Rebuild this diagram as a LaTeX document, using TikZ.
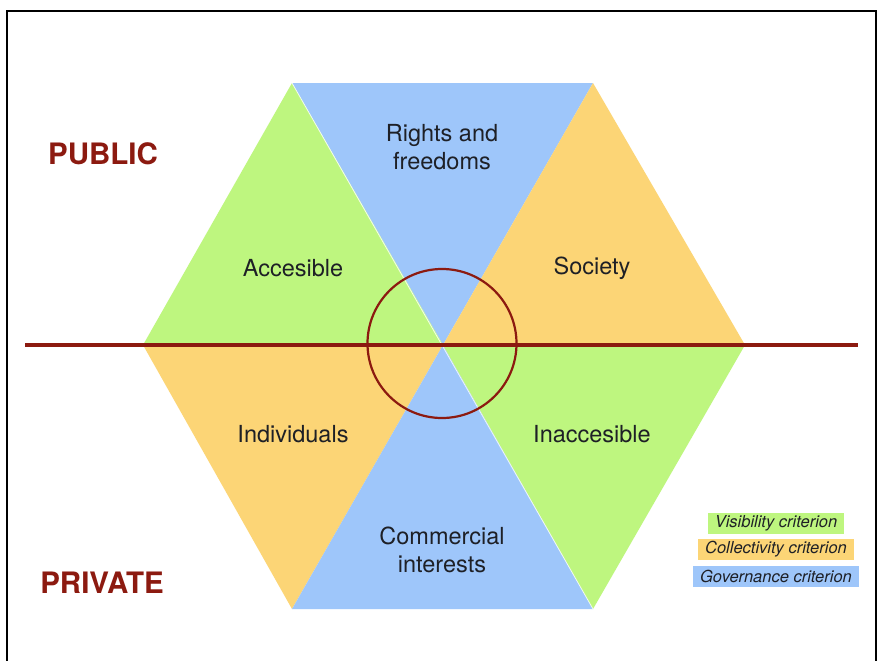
\documentclass[tikz,border=0pt]{standalone}
\usepackage{fontspec}
\setmainfont{TeX Gyre Heros}
\definecolor{vgreen}{RGB}{190,246,127}
\definecolor{gblue}{RGB}{158,198,250}
\definecolor{corange}{RGB}{252,213,118}
\definecolor{darkred}{RGB}{140,26,16}
\definecolor{inktext}{RGB}{30,32,38}
\begin{document}
\begin{tikzpicture}[x=1pt,y=-1pt,
  cellfont/.style={font=\fontsize{23.5}{28}\selectfont, text=inktext, align=center, inner sep=0pt},
  sidelabel/.style={font=\fontsize{29.5}{34}\selectfont\bfseries, text=darkred, inner sep=0pt},
  keybox/.style={font=\fontsize{16.5}{19}\selectfont\itshape, text=inktext, inner xsep=7pt, inner ysep=0pt, minimum height=21pt},
  divider/.style={draw=darkred, line width=3.2pt},
  ring/.style={draw=darkred, line width=2.2pt, circle, minimum size=149pt, inner sep=0pt}]
\useasboundingbox (0,0) rectangle (878,661);
\fill[white] (0,0) rectangle (878,661);
% outer frame, open at the bottom
\draw[black, line width=1.8pt] (7,661) -- (7,11) -- (876,11) -- (876,661);

% hexagon corners
\coordinate (C) at (443,345);
\coordinate (TL) at (292,83);
\coordinate (TR) at (593,83);
\coordinate (R) at (745,345);
\coordinate (BR) at (593,609);
\coordinate (BL) at (292,609);
\coordinate (L) at (143,345);

% six coloured sectors
\fill[gblue] (C) -- (TL) -- (TR) -- cycle;
\fill[vgreen] (C) -- (TL) -- (L) -- cycle;
\fill[corange] (C) -- (TR) -- (R) -- cycle;
\fill[corange] (C) -- (L) -- (BL) -- cycle;
\fill[gblue] (C) -- (BL) -- (BR) -- cycle;
\fill[vgreen] (C) -- (R) -- (BR) -- cycle;
% thin light seam along one diagonal
\draw[white, line width=0.8pt, opacity=0.8] (TL) -- (BR);

% sector captions
\node[cellfont] (rights) at (442,147) {Rights and\\freedoms};
\node[cellfont] (acc) at (293,268) {Accesible};
\node[cellfont] (soc) at (592,268) {Society};
\node[cellfont] (ind) at (293,434) {Individuals};
\node[cellfont] (inacc) at (592,434) {Inaccesible};
\node[cellfont] (comm) at (442,550) {Commercial\\interests};

% public / private split
\coordinate (lineL) at (25,345);
\coordinate (lineR) at (858,345);
\draw[divider] (lineL) -- (lineR);
\node[ring] (core) at (442,343.5) {};

\node[sidelabel] (public) at (103,154) {PUBLIC};
\node[sidelabel] (private) at (102,583) {PRIVATE};

% legend
\node[keybox, fill=vgreen] (kvis) at (776,523) {Visibility criterion};
\node[keybox, fill=corange] (kcol) at (776,549) {Collectivity criterion};
\node[keybox, fill=gblue] (kgov) at (776,576) {Governance criterion};
\end{tikzpicture}
\end{document}
